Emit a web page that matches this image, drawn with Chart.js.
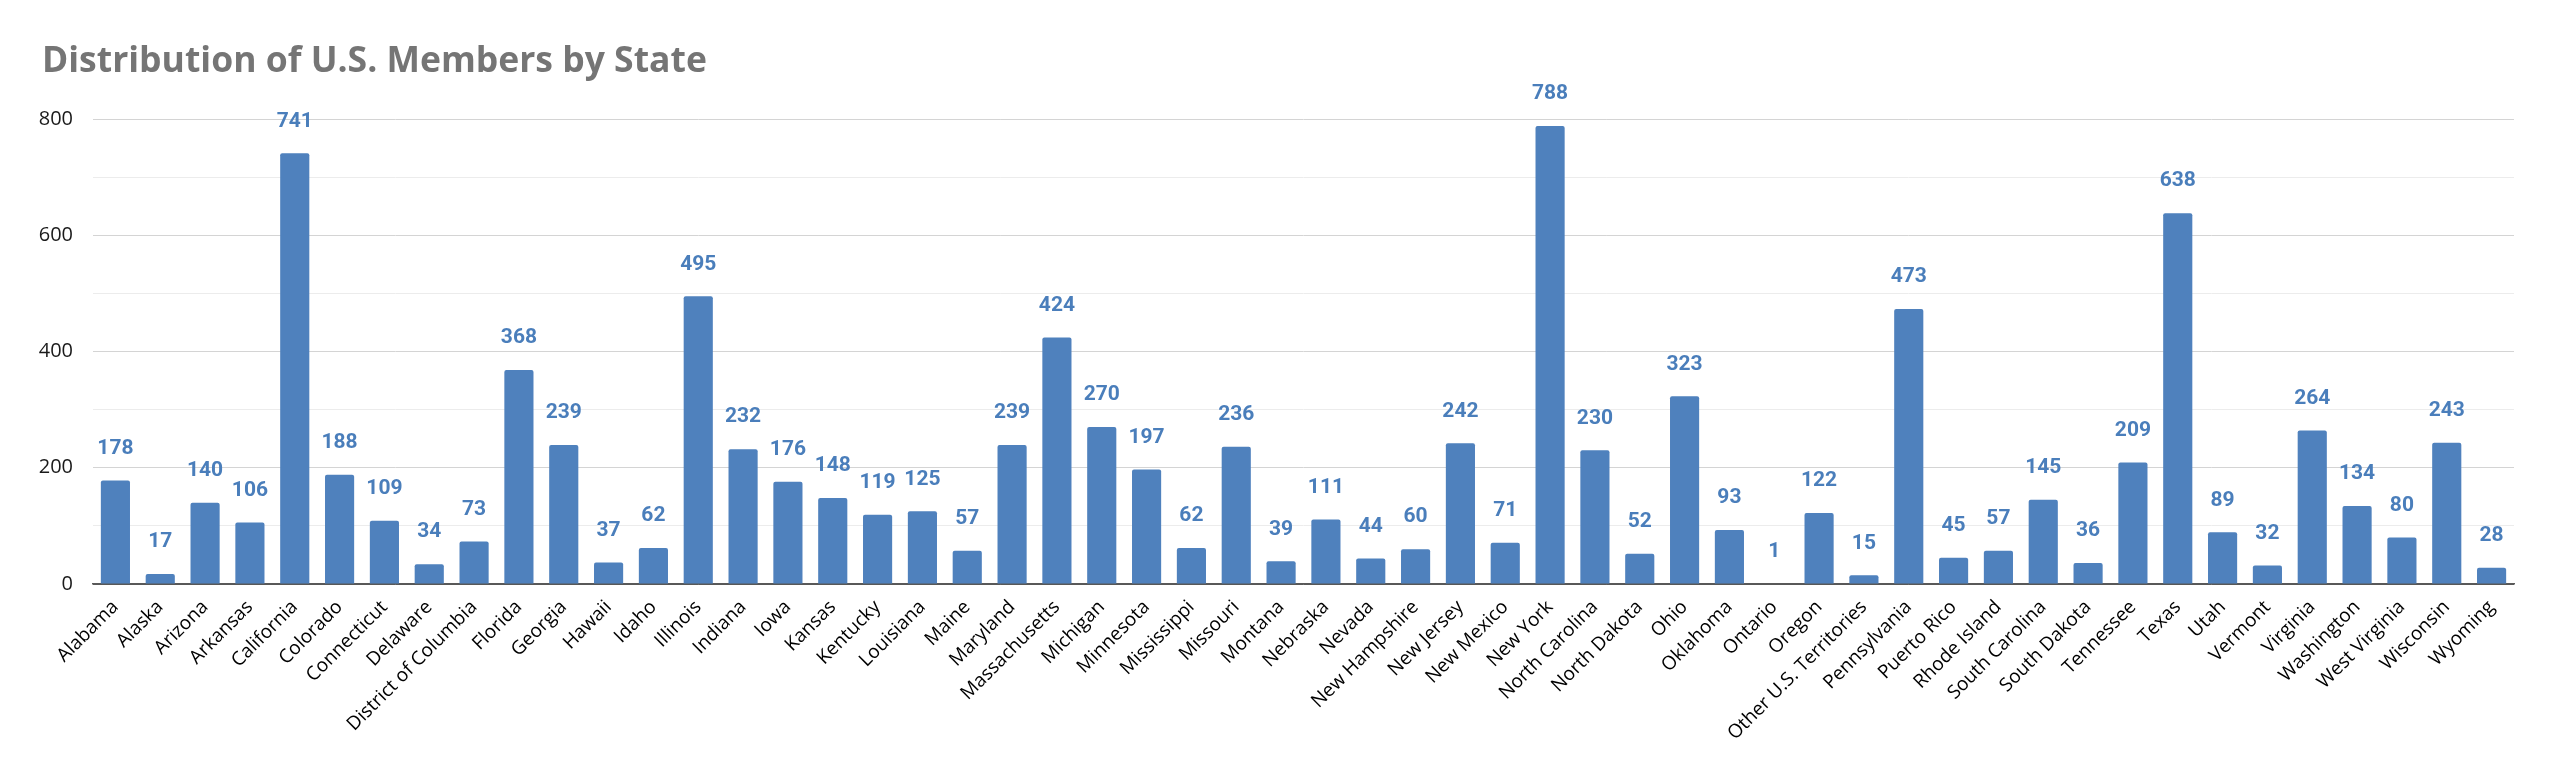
<!DOCTYPE html>
<html>
<head>
<meta charset="utf-8">
<title>Distribution of U.S. Members by State</title>
<script src="https://cdn.jsdelivr.net/npm/chart.js@4/dist/chart.umd.min.js"></script>
<style>
  body { margin: 0; background: #fff; }
  #wrap { width: 2560px; height: 781px; position: relative; }
</style>
</head>
<body>
<div id="wrap"><canvas id="membersByState"></canvas></div>
<script>
const chartTitle = "Distribution of U.S. Members by State";

const states = [
  "Alabama", "Alaska", "Arizona", "Arkansas", "California", "Colorado", "Connecticut",
  "Delaware", "District of Columbia", "Florida", "Georgia", "Hawaii", "Idaho", "Illinois",
  "Indiana", "Iowa", "Kansas", "Kentucky", "Louisiana", "Maine", "Maryland",
  "Massachusetts", "Michigan", "Minnesota", "Mississippi", "Missouri", "Montana",
  "Nebraska", "Nevada", "New Hampshire", "New Jersey", "New Mexico", "New York",
  "North Carolina", "North Dakota", "Ohio", "Oklahoma", "Ontario", "Oregon",
  "Other U.S. Territories", "Pennsylvania", "Puerto Rico", "Rhode Island",
  "South Carolina", "South Dakota", "Tennessee", "Texas", "Utah", "Vermont",
  "Virginia", "Washington", "West Virginia", "Wisconsin", "Wyoming"
];

const members = [
  178, 17, 140, 106, 741, 188, 109,
  34, 73, 368, 239, 37, 62, 495,
  232, 176, 148, 119, 125, 57, 239,
  424, 270, 197, 62, 236, 39,
  111, 44, 60, 242, 71, 788,
  230, 52, 323, 93, 1, 122,
  15, 473, 45, 57,
  145, 36, 209, 638, 89, 32,
  264, 134, 80, 243, 28
];

const yTicks = [0, 200, 400, 600, 800];

// title drawn top-left, Excel style
const titlePlugin = {
  id: "titlePlugin",
  beforeDraw(chart) {
    const { ctx } = chart;
    ctx.save();
    ctx.font = "bold 35.5px 'Open Sans'";
    ctx.fillStyle = "#757575";
    ctx.textAlign = "left";
    ctx.textBaseline = "alphabetic";
    ctx.fillText(chartTitle, 42, 72);
    ctx.restore();
  }
};

// value labels sit a fixed distance above each bar
const barLabels = {
  id: "barLabels",
  afterDatasetsDraw(chart) {
    const { ctx } = chart;
    const meta = chart.getDatasetMeta(0);
    ctx.save();
    ctx.font = "bold 21px Roboto";
    ctx.fillStyle = "#4a7ebb";
    ctx.textAlign = "center";
    ctx.textBaseline = "middle";
    meta.data.forEach((bar, i) => {
      ctx.fillText(members[i], bar.x, bar.y - 32);
    });
    ctx.restore();
  }
};

const ctx = document.getElementById("membersByState");

const membersChart = new Chart(ctx, {
  type: "bar",
  data: {
    labels: states,
    datasets: [
      {
        label: "Members",
        data: members,
        backgroundColor: "#4f81bd",
        borderRadius: 2,
        borderSkipped: "bottom",
        barPercentage: 0.65,
        categoryPercentage: 1
      }
    ]
  },
  options: {
    responsive: true,
    maintainAspectRatio: false,
    animation: false,
    layout: {
      padding: {
        left: 0,
        right: 46,
        top: 119,
        bottom: 0
      }
    },
    plugins: {
      legend: { display: false },
      tooltip: { enabled: false },
      title: { display: false }
    },
    scales: {
      x: {
        afterFit: scale => {
          scale.height = 197;
        },
        grid: { display: false, drawTicks: false },
        border: { display: true, color: "#595959", width: 1.5 },
        ticks: {
          autoSkip: false,
          maxRotation: 45,
          minRotation: 45,
          padding: 12,
          color: "#000",
          font: {
            family: "Open Sans",
            size: 19
          }
        }
      },
      y: {
        min: 0,
        max: 800,
        afterFit: scale => {
          scale.width = 93;
        },
        border: { display: false },
        grid: {
          drawTicks: false,
          color: c => {
            if (c.tick.value === 0) return "#595959";
            return yTicks.includes(c.tick.value) ? "#d4d4d4" : "#ececec";
          },
          lineWidth: 1
        },
        ticks: {
          stepSize: 100,
          padding: 20,
          color: "#1a1a1a",
          font: {
            family: "Open Sans",
            size: 20
          },
          callback: value => (yTicks.includes(value) ? value : "")
        }
      }
    }
  },
  plugins: [titlePlugin, barLabels]
});
</script>
</body>
</html>
